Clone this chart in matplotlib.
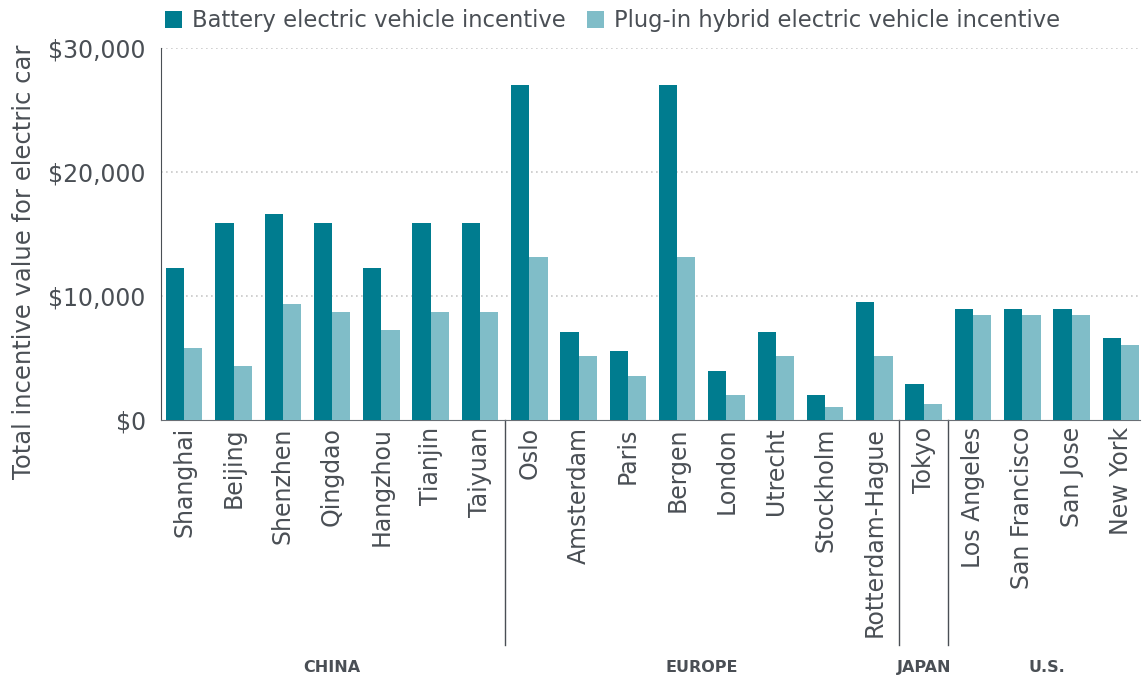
import matplotlib
matplotlib.use('Agg')
import matplotlib.pyplot as plt
import numpy as np

cities = ['Shanghai', 'Beijing', 'Shenzhen', 'Qingdao', 'Hangzhou', 'Tianjin', 'Taiyuan',
          'Oslo', 'Amsterdam', 'Paris', 'Bergen', 'London', 'Utrecht', 'Stockholm',
          'Rotterdam-Hague', 'Tokyo', 'Los Angeles', 'San Francisco', 'San Jose', 'New York']
bev = [12300, 15900, 16600, 15900, 12300, 15900, 15900,
       27000, 7100, 5600, 27000, 3950, 7100, 2000,
       9500, 2900, 9000, 9000, 9000, 6600]
phev = [5800, 4400, 9350, 8700, 7250, 8700, 8700,
        13200, 5200, 3600, 13200, 2000, 5200, 1050,
        5200, 1300, 8500, 8500, 8500, 6100]
regions = ['CHINA', 'EUROPE', 'JAPAN', 'U.S.']
region_sizes = [7, 8, 1, 4]

bev_color = '#007C8F'
phev_color = '#80BDC8'
text_color = '#4A4F55'

plt.rcParams['font.family'] = 'DejaVu Sans'

fig = plt.figure(figsize=(11.47, 6.8), dpi=100)
ax = fig.add_axes([0.1404, 0.382, 0.8536, 0.547])

x = np.arange(len(cities))
w = 0.37
ax.bar(x - w / 2, bev, w, color=bev_color, label='Battery electric vehicle incentive', zorder=3)
ax.bar(x + w / 2, phev, w, color=phev_color, label='Plug-in hybrid electric vehicle incentive', zorder=3)

ax.set_xlim(-0.47, 19.39)
ax.set_ylim(0, 30000)
ax.set_yticks([0, 10000, 20000, 30000])
ax.set_yticklabels(['$0', '$10,000', '$20,000', '$30,000'], fontsize=17, color=text_color)
for yv in [10000, 20000, 30000]:
    ax.axhline(yv, color='#C8C8C8', linestyle=(0, (1, 2)), linewidth=1.2, zorder=1)

ax.set_xticks(x)
ax.set_xticklabels(cities, rotation=90, fontsize=17, color=text_color)
ax.tick_params(axis='x', length=0, pad=5)
ax.tick_params(axis='y', length=0, pad=11)

ax.spines['top'].set_visible(False)
ax.spines['right'].set_visible(False)
ax.spines['left'].set_color('#4A4F55')
ax.spines['bottom'].set_color('#6A6F75')

ax.set_ylabel('Total incentive value for electric car', fontsize=17.5, color=text_color)
ax.yaxis.set_label_coords(-0.128, 0.425)

# region separators and labels below axis
start = 0
trans = ax.get_xaxis_transform()
for i, (name, n) in enumerate(zip(regions, region_sizes)):
    end = start + n
    if i > 0:
        ax.plot([start - 0.5, start - 0.5], [0, -0.605], transform=trans, color='#4A4F55',
                linewidth=1, clip_on=False)
    ax.text((start + end - 1) / 2, -0.665, name, transform=trans, ha='center', va='center',
            fontsize=11.5, fontweight='bold', color=text_color)
    start = end

leg = fig.legend(loc='upper left', bbox_to_anchor=(0.126, 1.016), ncol=2, frameon=False,
                 fontsize=16.3, handlelength=0.75, handleheight=0.8, handletextpad=0.45,
                 columnspacing=0.95)
for t in leg.get_texts():
    t.set_color(text_color)

fig.savefig('out.png', dpi=100)
plt.close(fig)
